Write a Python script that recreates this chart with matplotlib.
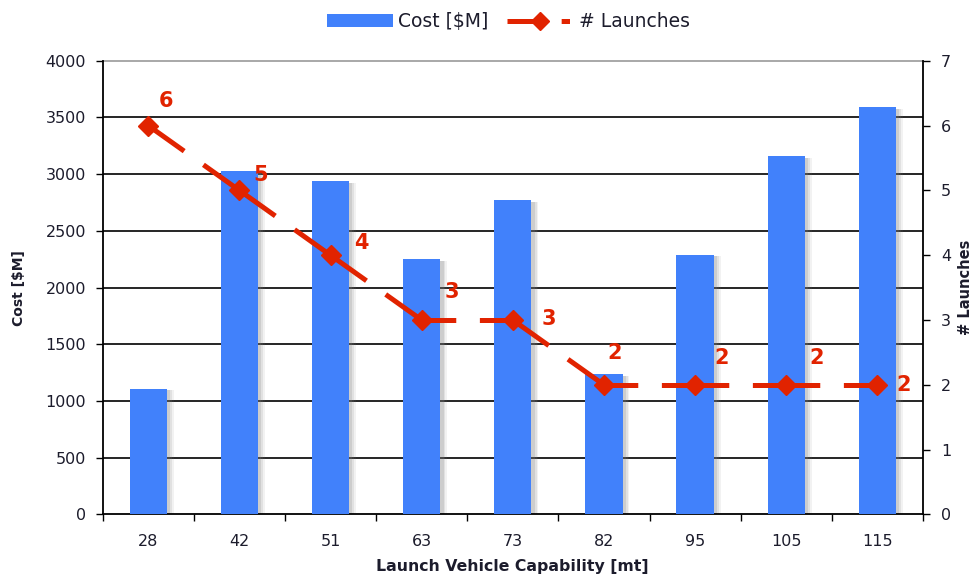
import matplotlib
matplotlib.use("Agg")
import matplotlib.pyplot as plt
from matplotlib.lines import Line2D
from matplotlib.patches import Patch
import numpy as np

# Launch vehicle capability classes (metric tons)
capability = ["28", "42", "51", "63", "73", "82", "95", "105", "115"]
# Total campaign cost per vehicle class [$M]
cost = [1110, 3030, 2940, 2250, 2770, 1240, 2290, 3160, 3590]
# Number of launches required per vehicle class
launches = [6, 5, 4, 3, 3, 2, 2, 2, 2]

# Label offsets (points) for the launch-count annotations
label_offsets = [(13, 18), (15, 11), (22, 9), (22, 20), (26, 1), (8, 23), (19, 19), (22, 19), (19, 0)]

BAR_BLUE = "#4181FB"
LINE_RED = "#E12300"
TEXT = "#1c1c2c"
DPI = 100

plt.rcParams["font.family"] = ["DejaVu Sans"]
plt.rcParams["lines.scale_dashes"] = False

fig = plt.figure(figsize=(9.74, 5.78), dpi=DPI)
ax = fig.add_axes([0.1054, 0.1099, 0.8422, 0.7850])
ax2 = ax.twinx()

x = np.arange(len(capability))
width = 0.41

# soft drop shadow behind each bar
for k, a in [(0.075, 0.10), (0.055, 0.15), (0.035, 0.20)]:
    ax.bar(x + k, np.array(cost) - 15, width=width, color="#808080",
           alpha=a, zorder=2, linewidth=0)
ax.bar(x, cost, width=width, color=BAR_BLUE, zorder=3, linewidth=0)

ax.set_xlim(-0.5, len(capability) - 0.5)
ax.set_ylim(0, 4000)
ax.set_yticks(np.arange(0, 4001, 500))
ax.set_xticks(x)
ax.set_xticklabels(capability)
ax.set_xticks(np.arange(-0.5, len(capability), 1), minor=True)
ax.tick_params(axis="x", which="major", length=0, pad=14, labelsize=11.5, labelcolor=TEXT)
ax.tick_params(axis="x", which="minor", length=5, width=1, direction="out", color="black")
ax.tick_params(axis="y", length=5, width=1, direction="out", labelsize=11.5, labelcolor=TEXT, pad=7)

for yv in np.arange(500, 4000, 500):
    ax.axhline(yv, color="black", linewidth=1.2, zorder=1)
ax.axhline(4000, color="#999999", linewidth=1.2, zorder=1, clip_on=False)

for side in ["top", "right"]:
    ax.spines[side].set_visible(False)
ax.spines["left"].set_linewidth(1.3)
ax.spines["bottom"].set_linewidth(1.3)

ax.set_xlabel("Launch Vehicle Capability [mt]", fontsize=11.3, fontweight="bold", labelpad=7, color=TEXT)
ax.set_ylabel("Cost [$M]", fontsize=10, fontweight="bold", labelpad=14, color=TEXT)

# launches on secondary axis
ax2.set_ylim(0, 7)
ax2.set_yticks(np.arange(0, 8, 1))
ax2.tick_params(axis="y", length=5, width=1, direction="out", labelsize=11.5, labelcolor=TEXT, pad=8)
for side in ["top", "left", "bottom"]:
    ax2.spines[side].set_visible(False)
ax2.spines["right"].set_linewidth(1.3)
ax2.set_ylabel("# Launches", fontsize=10.5, fontweight="bold", labelpad=5, color=TEXT, rotation=90)

# each segment gets its own dash pattern: solid around the markers, one gap in the middle
LW = 3.6
GAP = 17.0
pts = ax2.transData.transform(np.column_stack([x, launches]))
for i in range(len(x) - 1):
    seg_px = np.hypot(*(pts[i + 1] - pts[i]))
    seg_pt = seg_px * 72.0 / DPI
    dash = seg_pt - GAP
    ax2.plot(x[i:i + 2], launches[i:i + 2], color=LINE_RED, linewidth=LW,
             linestyle=(dash / 2, (dash, GAP)), dash_capstyle="butt", zorder=5)
ax2.plot(x, launches, linestyle="none", marker="D", markersize=10.5,
         color=LINE_RED, zorder=6)

for xi, n, (dx, dy) in zip(x, launches, label_offsets):
    ax2.annotate(str(n), (xi, n), xytext=(dx, dy), textcoords="offset points",
                 color=LINE_RED, fontsize=15, fontweight="bold", ha="center", va="center", zorder=7)

handles = [
    Patch(facecolor=BAR_BLUE, edgecolor="none"),
    Line2D([], [], color=LINE_RED, linewidth=LW, linestyle=(0, (26, 13, 6, 40)),
           dash_capstyle="butt", marker="D", markersize=9),
]
fig.legend(handles, ["Cost [$M]", "# Launches"], loc="upper center", bbox_to_anchor=(0.522, 1.008),
           ncol=2, frameon=False, fontsize=13.5, handlelength=3.5, handletextpad=0.3,
           columnspacing=1.0, labelcolor=TEXT)

fig.savefig("out.png", dpi=DPI)
